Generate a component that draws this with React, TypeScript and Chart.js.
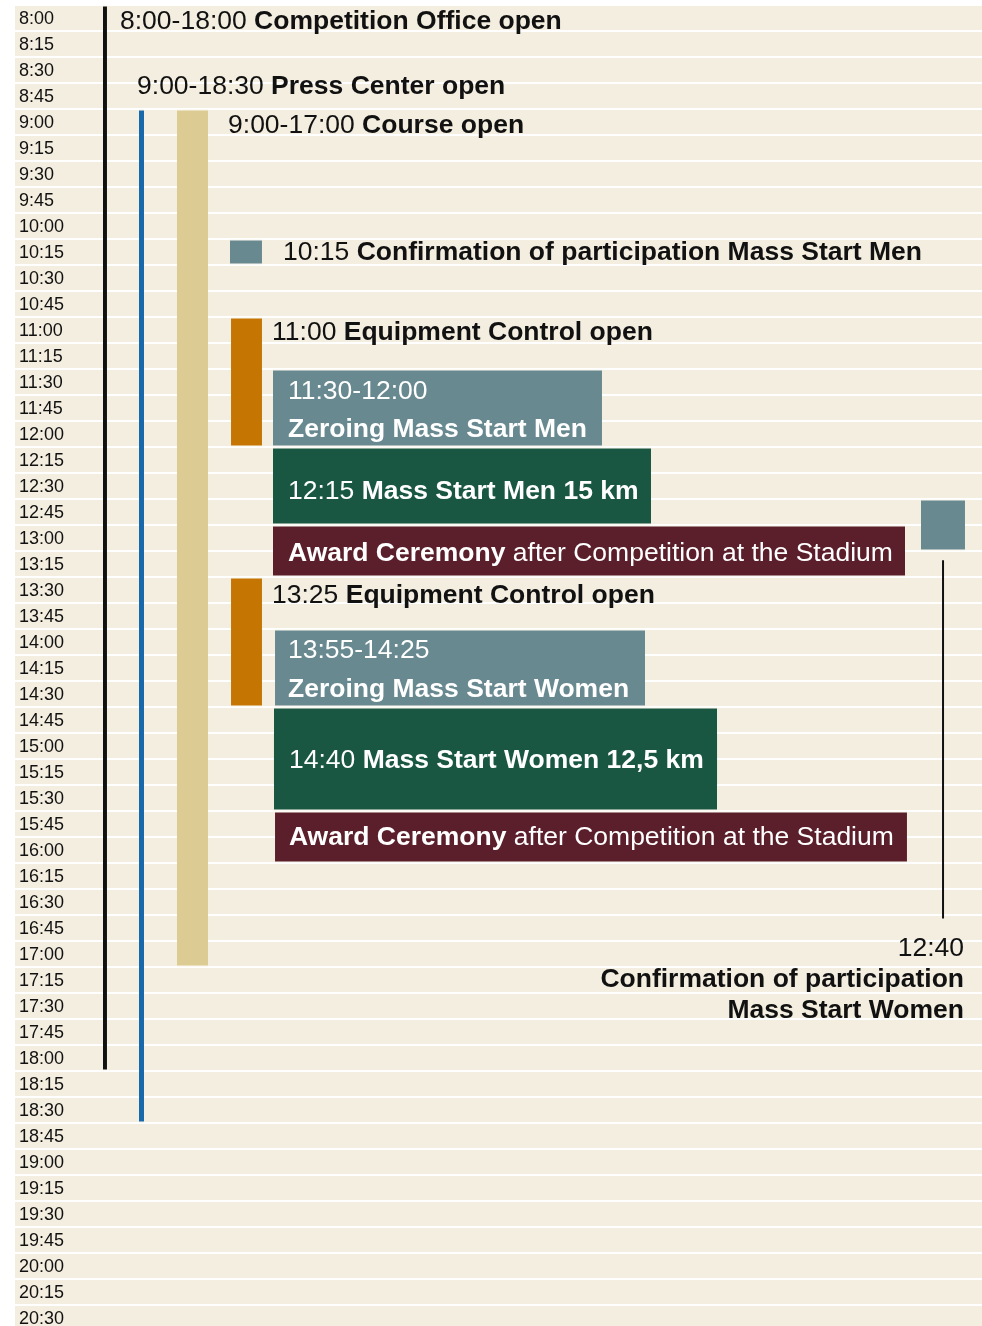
import { useEffect, useRef } from 'react';
import { Chart, registerables } from 'chart.js';
Chart.register(...registerables);

const timeLabels = [
  '8:00', '8:15', '8:30', '8:45', '9:00', '9:15', '9:30', '9:45', '10:00', '10:15',
  '10:30', '10:45', '11:00', '11:15', '11:30', '11:45', '12:00', '12:15', '12:30', '12:45',
  '13:00', '13:15', '13:30', '13:45', '14:00', '14:15', '14:30', '14:45', '15:00', '15:15',
  '15:30', '15:45', '16:00', '16:15', '16:30', '16:45', '17:00', '17:15', '17:30', '17:45',
  '18:00', '18:15', '18:30', '18:45', '19:00', '19:15', '19:30', '19:45', '20:00', '20:15', '20:30',
];

const eventNames = [
  'Competition Office', 'Press Center', 'Course', 'Confirmation Men', 'Equipment Control Men',
  'Zeroing Men', 'Mass Start Men', 'Award Ceremony Men', 'Confirmation Women',
  'Equipment Control Women', 'Zeroing Women', 'Mass Start Women', 'Award Ceremony Women',
];
const eventFrom = ['8:00', '9:00', '9:00', '10:15', '11:00', '11:30', '12:15', '13:00', '12:45', '13:30', '14:00', '14:45', '15:45'];
const eventTo = ['18:00', '18:30', '17:00', '10:15', '12:00', '12:00', '12:45', '13:15', '13:00', '14:30', '14:30', '15:30', '16:00'];
const eventLeft = [9.1, 12.82, 16.75, 22.23, 22.34, 26.68, 26.68, 26.68, 93.69, 22.34, 26.89, 26.78, 26.89];
const eventRight = [9.51, 13.34, 19.96, 25.54, 25.54, 60.7, 65.77, 92.04, 98.24, 25.54, 65.15, 72.6, 92.24];
const eventColors = [
  '#111111', '#1769ab', '#dccb92', '#688990', '#c47502', '#688990', '#1a5743', '#5b1f2b',
  '#688990', '#c47502', '#688990', '#1a5743', '#5b1f2b',
];

// text annotations: x on the 0-100 horizontal scale, r = fractional row index
type Part = [string, boolean];
const labelX = [10.86, 12.62, 22.03, 27.71, 26.58, 28.23, 28.23, 28.23, 28.23, 26.58, 28.23, 28.23, 28.33, 28.33, 98.14, 98.14, 98.14];
const labelRow = [0.1, 2.6, 4.07, 8.97, 12.05, 14.33, 15.79, 18.15, 20.53, 22.15, 24.27, 25.77, 28.5, 31.46, 35.72, 36.92, 38.11];
const labelParts: Part[][] = [
  [['8:00-18:00 ', false], ['Competition Office open', true]],
  [['9:00-18:30 ', false], ['Press Center open', true]],
  [['9:00-17:00 ', false], ['Course open', true]],
  [['10:15 ', false], ['Confirmation of participation Mass Start Men', true]],
  [['11:00 ', false], ['Equipment Control open', true]],
  [['11:30-12:00', false]],
  [['Zeroing Mass Start Men', true]],
  [['12:15 ', false], ['Mass Start Men 15 km', true]],
  [['Award Ceremony', true], [' after Competition at the Stadium', false]],
  [['13:25 ', false], ['Equipment Control open', true]],
  [['13:55-14:25', false]],
  [['Zeroing Mass Start Women', true]],
  [['14:40 ', false], ['Mass Start Women 12,5 km', true]],
  [['Award Ceremony', true], [' after Competition at the Stadium', false]],
  [['12:40', false]],
  [['Confirmation of participation', true]],
  [['Mass Start Women', true]],
];
const labelColor = ['#111', '#111', '#111', '#111', '#111', '#fff', '#fff', '#fff', '#fff', '#111', '#fff', '#fff', '#fff', '#fff', '#111', '#111', '#111'];
const labelAlign = ['left', 'left', 'left', 'left', 'left', 'left', 'left', 'left', 'left', 'left', 'left', 'left', 'left', 'left', 'right', 'right', 'right'];

// connector line for the women's confirmation
const connectorX = 95.97;
const connectorRows = [20.86, 34.63];

const FONT = '"Liberation Sans", Arial, Helvetica, sans-serif';
const LABEL_SIZE = 26.5;
const BEIGE = '#f4eee0';

export default function App() {
  const ref = useRef<HTMLCanvasElement>(null);
  useEffect(() => {
    document.body.style.margin = '0';
    document.body.style.overflow = 'hidden';
    document.documentElement.style.overflow = 'hidden';

    const datasets = eventNames.map((name, e) => {
      const s = timeLabels.indexOf(eventFrom[e]);
      const en = timeLabels.indexOf(eventTo[e]);
      return {
        label: name,
        data: timeLabels.map((_, i) => (i >= s && i <= en ? [eventLeft[e], eventRight[e]] : null)),
        backgroundColor: eventColors[e],
        borderColor: '#fcfaf5',
        borderSkipped: false,
        borderWidth: (ctx: any) => ({
          top: ctx.dataIndex === s ? 1.5 : 0,
          bottom: ctx.dataIndex === en ? 1.5 : 0,
          left: 0,
          right: 0,
        }),
        inflateAmount: 0,
        grouped: false,
        barPercentage: 1,
        categoryPercentage: 1,
      };
    });

    const bgPlugin = {
      id: 'bg',
      beforeDraw(chart: any) {
        const { ctx, chartArea } = chart;
        ctx.save();
        ctx.fillStyle = '#ffffff';
        ctx.fillRect(0, 0, chart.width, chart.height);
        ctx.fillStyle = BEIGE;
        ctx.fillRect(chartArea.left, chartArea.top, chartArea.right - chartArea.left, chartArea.bottom - chartArea.top);
        ctx.restore();
      },
    };

    const textPlugin = {
      id: 'texts',
      afterDatasetsDraw(chart: any) {
        const { ctx } = chart;
        const xs = chart.scales.x;
        const ys = chart.scales.y;
        ctx.save();
        ctx.strokeStyle = '#111';
        ctx.lineWidth = 2;
        ctx.beginPath();
        const cx = xs.getPixelForValue(connectorX);
        ctx.moveTo(cx, ys.getPixelForValue(connectorRows[0]));
        ctx.lineTo(cx, ys.getPixelForValue(connectorRows[1]));
        ctx.stroke();

        ctx.textBaseline = 'middle';
        ctx.textAlign = 'left';
        labelParts.forEach((parts, k) => {
          const y = ys.getPixelForValue(labelRow[k]) + 1.5;
          const widths = parts.map(([t, b]) => {
            ctx.font = `${b ? 'bold ' : ''}${LABEL_SIZE}px ${FONT}`;
            return ctx.measureText(t).width;
          });
          const total = widths.reduce((a, b) => a + b, 0);
          let x = xs.getPixelForValue(labelX[k]);
          if (labelAlign[k] === 'right') x -= total;
          ctx.fillStyle = labelColor[k];
          parts.forEach(([t, b], j) => {
            ctx.font = `${b ? 'bold ' : ''}${LABEL_SIZE}px ${FONT}`;
            ctx.fillText(t, x, y);
            x += widths[j];
          });
        });
        ctx.restore();
      },
    };

    const chart = new Chart(ref.current!, {
      type: 'bar',
      data: { labels: timeLabels, datasets: datasets as any },
      options: {
        indexAxis: 'y',
        responsive: false,
        animation: false,
        layout: { autoPadding: false, padding: { top: 5, left: 7, right: 0, bottom: 6 } },
        plugins: { legend: { display: false }, tooltip: { enabled: false } },
        scales: {
          x: { type: 'linear', min: 0, max: 100, display: false },
          y: {
            type: 'category',
            offset: true,
            border: { display: false },
            grid: { color: '#ffffff', lineWidth: 2, offset: true, drawTicks: false },
            ticks: {
              mirror: true,
              padding: 4,
              labelOffset: 1.5,
              autoSkip: false,
              color: '#111',
              font: { family: FONT, size: 18, lineHeight: 0.1 },
            },
          },
        },
      },
      plugins: [bgPlugin, textPlugin],
    });
    return () => chart.destroy();
  }, []);
  return (
    <div style={{ width: 982, height: 1337 }}>
      <canvas ref={ref} width={982} height={1337} style={{ display: 'block' }} />
    </div>
  );
}
